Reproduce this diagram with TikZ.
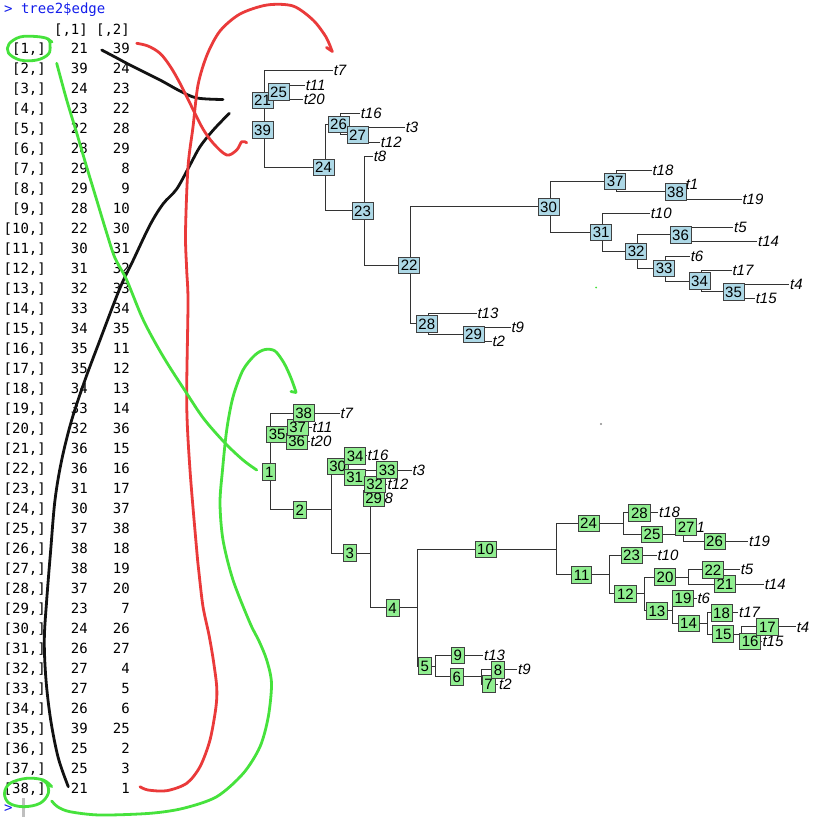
\documentclass[tikz,border=0pt]{standalone}
\usepackage{fontspec}
\newfontfamily\lsans{Liberation Sans}
\newfontfamily\dmono{DejaVu Sans Mono}
\usetikzlibrary{calc}
\definecolor{boxblue}{RGB}{173,216,230}
\definecolor{boxgreen}{RGB}{144,238,144}
\definecolor{penred}{RGB}{234,58,58}
\definecolor{pengreen}{RGB}{70,226,60}
\definecolor{penblack}{RGB}{18,18,18}
\definecolor{rblue}{RGB}{20,30,235}

\newcommand\treecoords{%
 \coordinate (n21) at (264,100.25);
 \coordinate (n39) at (264,129.79);
 \coordinate (n25) at (280,92.09);
 \coordinate (n24) at (325,167.49);
 \coordinate (n26) at (340,124.18);
 \coordinate (n27) at (359,134.87);
 \coordinate (n23) at (364,210.8);
 \coordinate (n22) at (410.7,265.34);
 \coordinate (n28) at (428.3,323.82);
 \coordinate (n29) at (475,334.51);
 \coordinate (n30) at (550,206.85);
 \coordinate (n37) at (616.7,181.22);
 \coordinate (n38) at (677,191.91);
 \coordinate (n31) at (602.7,232.47);
 \coordinate (n32) at (637.7,251.63);
 \coordinate (n36) at (682,234.69);
 \coordinate (n33) at (665.7,268.56);
 \coordinate (n34) at (701,281.04);
 \coordinate (n35) at (735,291.73);
 \coordinate (t7) at (333,70.70);
 \coordinate (t11) at (305,84.96);
 \coordinate (t20) at (303,99.22);
 \coordinate (t16) at (360,113.48);
 \coordinate (t3) at (405,127.74);
 \coordinate (t12) at (380,142.00);
 \coordinate (t8) at (373,156.26);
 \coordinate (t18) at (651.7,170.52);
 \coordinate (t1) at (685,184.78);
 \coordinate (t19) at (741.7,199.04);
 \coordinate (t10) at (650,213.30);
 \coordinate (t5) at (733.3,227.56);
 \coordinate (t14) at (757.3,241.82);
 \coordinate (t6) at (690,256.08);
 \coordinate (t17) at (731.7,270.34);
 \coordinate (t4) at (789.3,284.60);
 \coordinate (t15) at (755,298.86);
 \coordinate (t13) at (476.7,313.12);
 \coordinate (t9) at (510.7,327.38);
 \coordinate (t2) at (491.7,341.64);
}
\newcommand\treeedges{%
 \E{n21}{n39}{1}\E{n39}{n24}{2}\E{n24}{n23}{3}\E{n23}{n22}{4}\E{n22}{n28}{5}%
 \E{n28}{n29}{6}\E{n29}{t2}{7}\E{n29}{t9}{8}\E{n28}{t13}{9}\E{n22}{n30}{10}%
 \E{n30}{n31}{11}\E{n31}{n32}{12}\E{n32}{n33}{13}\E{n33}{n34}{14}\E{n34}{n35}{15}%
 \E{n35}{t15}{16}\E{n35}{t4}{17}\E{n34}{t17}{18}\E{n33}{t6}{19}\E{n32}{n36}{20}%
 \E{n36}{t14}{21}\E{n36}{t5}{22}\E{n31}{t10}{23}\E{n30}{n37}{24}\E{n37}{n38}{25}%
 \E{n38}{t19}{26}\E{n38}{t1}{27}\E{n37}{t18}{28}\E{n23}{t8}{29}\E{n24}{n26}{30}%
 \E{n26}{n27}{31}\E{n27}{t12}{32}\E{n27}{t3}{33}\E{n26}{t16}{34}\E{n39}{n25}{35}%
 \E{n25}{t20}{36}\E{n25}{t11}{37}\E{n21}{t7}{38}%
}
\newcommand\tiplabels{%
 \foreach \t in {7,11,20,16,3,12,8,18,1,19,10,5,14,6,17,4,15,13,9,2}
   {\node[tiplab] (l\t) at (t\t) {t\t};}%
}

\begin{document}
\begin{tikzpicture}[x=1pt,y=-1pt,
  treeline/.style={draw=black!80, line width=0.9pt},
  tiplab/.style={anchor=west, inner sep=0pt, xshift=0.6pt, font=\lsans\itshape\fontsize{15}{15}\selectfont},
  nlab/.style={draw=black!75, line width=0.8pt, fill=boxblue, inner xsep=2.2pt, inner ysep=0pt,
    minimum height=16.5pt, text height=10.7pt, text depth=0pt, xshift=-1.5pt,
    font=\lsans\fontsize{15}{15}\selectfont},
  elab/.style={nlab, fill=boxgreen},
  mono/.style={font=\dmono\fontsize{14}{14}\selectfont, inner sep=0pt, anchor=base east},
  pen/.style={line width=2.8pt, line cap=round, line join=round}]

\fill[white] (0,0) rectangle (837,823);
\useasboundingbox (0,0) rectangle (837,823);

% ---------- console ----------
\node[mono, anchor=base west, text=rblue] (prompt) at (4,13) {> tree2\$edge};
\node[mono] (h1) at (88,34.3) {[,1]};
\node[mono] (h2) at (130,34.3) {[,2]};
\foreach \r/\a/\b in {1/21/39,2/39/24,3/24/23,4/23/22,5/22/28,6/28/29,7/29/8,8/29/9,
  9/28/10,10/22/30,11/30/31,12/31/32,13/32/33,14/33/34,15/34/35,16/35/11,17/35/12,
  18/34/13,19/33/14,20/32/36,21/36/15,22/36/16,23/31/17,24/30/37,25/37/38,26/38/18,
  27/38/19,28/37/20,29/23/7,30/24/26,31/26/27,32/27/4,33/27/5,34/26/6,35/39/25,
  36/25/2,37/25/3,38/21/1}{
  \node[mono] (r\r) at (46,{53.3+20*(\r-1)}) {[\r,]};
  \node[mono] (a\r) at (88,{53.3+20*(\r-1)}) {\a};
  \node[mono] (b\r) at (130,{53.3+20*(\r-1)}) {\b};
}
\node[mono, anchor=base west, text=rblue] (prompt2) at (4,812) {>};
\fill[black!25] (22,798) rectangle (24.5,817);

% ---------- top tree: node labels ----------
\begin{scope}
 \treecoords
 \def\E#1#2#3{\draw[treeline] (#1) |- (#2);}
 \treeedges
 \tiplabels
 \foreach \n in {21,22,23,24,25,26,27,28,29,30,31,32,33,34,35,36,37,38,39}
   {\node[nlab] (b\n) at (n\n) {\n};}
\end{scope}

% ---------- bottom tree: edge labels ----------
\begin{scope}[shift={(6.7,342.3)}]
 \treecoords
 \def\E#1#2#3{\draw[treeline] (#1) |- (#2);}
 \treeedges
 \tiplabels
 \def\E#1#2#3{\path (#1) |- node[elab,pos=0.75] (e#3) {#3} (#2);}
 \treeedges
\end{scope}

% ---------- stray dots ----------
\fill[pengreen] (596,287.5) circle (1pt);
\fill[black!45] (601,424) circle (1.1pt);

% ---------- pen strokes ----------
\draw[pen, penblack] plot[smooth, tension=0.55] coordinates {
 (101.7,50) (115,57) (130,65) (160,80) (180,91) (197,98) (223,99.5)};
\draw[pen, penblack] plot[smooth, tension=0.55] coordinates {
 (229.3,113.3) (213.3,130) (200,146.7) (190,165) (176.7,189) (163,204) (150,225)
 (133.3,260) (120,288) (100,340) (85,380) (71.7,420) (61.7,460) (55,500)
 (50.7,550) (46.7,600) (44.3,640) (46,680) (50.7,720) (58.3,758) (68.3,786.7)};

\draw[pen, penred] plot[smooth, tension=0.55] coordinates {
 (136.7,43.3) (148,46) (160,53.3) (170,66) (180,83.3) (193.3,110) (203,129)
 (213.3,143.3) (226.7,155) (236.7,150) (241.7,141.7) (246.7,142.7)};
\draw[pen, penred] plot[smooth, tension=0.5] coordinates {
 (140,786.7) (148,790) (166.7,790.7) (186.7,783.3) (200,766.7) (210,740)
 (216,706.7) (216.7,686.7) (213.3,660) (209,635) (203,606.7) (199,573)
 (196.7,550) (190,470) (186.7,403) (188,303) (186.7,270) (185.5,233) (188,167)
 (193,127) (198,85) (207,55) (220,31) (240,14) (267,5) (293,6) (313,20)
 (326,37) (332,51)};
\draw[pen, penred] (332.5,51.5) -- (326.5,47.5);

\draw[pen, pengreen] plot[smooth cycle, tension=0.6] coordinates {
 (48,39) (36,36.5) (20,37) (9,44) (8.5,53) (20,60) (37,60) (48.5,54) (50,45)};
\draw[pen, pengreen] (48,39) -- (52,42);
\draw[pen, pengreen] plot[smooth, tension=0.55] coordinates {
 (56.7,63.3) (66.7,100) (76.7,133) (86.7,167) (96.7,200) (106.7,233) (115,258)
 (126.7,280) (143.3,320) (163.3,356.7) (186.7,393.3) (204,419) (225,443)
 (243,460) (256.7,470)};
\draw[pen, pengreen] plot[smooth, tension=0.6] coordinates {
 (51.7,786.7) (43.3,780) (26.7,778.3) (10,783.3) (4.5,793.3) (9,803) (23.3,806.7)
 (40,803.3) (48.3,793.3) (46.7,783.3) (41.7,780)};
\draw[pen, pengreen] plot[smooth, tension=0.5] coordinates {
 (51.7,801) (58,807) (70,811.7) (100,815) (150,813.3) (183.3,808.3) (216.7,796.7)
 (243.3,773.3) (260,746.7) (268.3,716.7) (271.5,683.3) (266.7,660) (259,641)
 (250,623) (233,580) (223,540) (220,503) (222.5,470) (226.7,430) (233,397)
 (243,370) (255,355) (265,349.5) (275,351) (284,363) (291,378) (296,392)};
\draw[pen, pengreen] (296,392.5) -- (291,391.5);
\end{tikzpicture}
\end{document}
